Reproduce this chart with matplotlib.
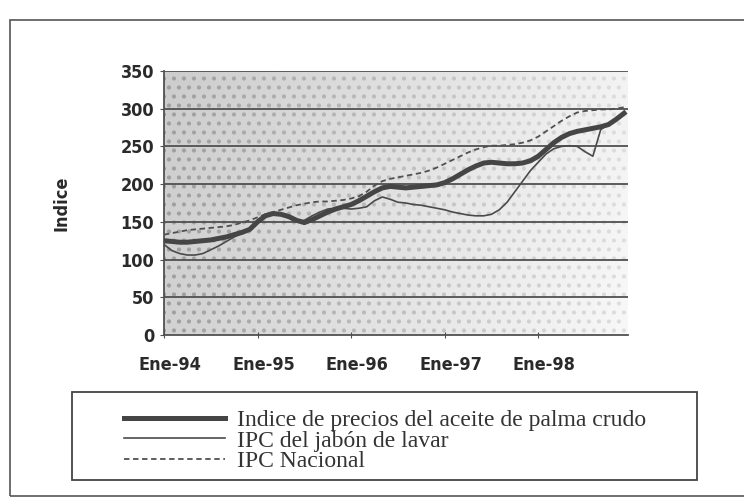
import numpy as np
import matplotlib.pyplot as plt
import matplotlib.transforms as mtransforms
from matplotlib.patches import Rectangle

# monthly data, Ene-94 .. Dic-98
meses = np.arange(60)
palma = [125, 124, 123, 123, 124, 125, 126, 128, 130, 133, 136, 140,
         150, 158, 161, 160, 157, 152, 149, 153, 158, 163, 167, 170,
         173, 178, 184, 190, 195, 197, 196, 195, 196, 197, 198, 199,
         202, 207, 213, 219, 224, 228, 229, 228, 227, 227, 228, 231,
         237, 246, 255, 262, 267, 270, 272, 274, 276, 279, 286, 294]
jabon = [120, 112, 108, 106, 106, 108, 113, 118, 124, 130, 135, 140,
         152, 158, 161, 160, 155, 150, 152, 158, 163, 167, 168, 168,
         167, 168, 170, 178, 183, 180, 176, 175, 173, 172, 170, 168,
         166, 163, 161, 159, 158, 158, 160, 166, 176, 190, 204, 218,
         229, 240, 247, 250, 251, 250, 243, 237, 272, 280, 285, 296]
ipc = [133, 135, 137, 139, 140, 141, 142, 143, 144, 146, 149, 152,
       156, 160, 163, 166, 169, 172, 174, 176, 177, 177, 178, 179,
       181, 184, 190, 198, 204, 207, 209, 211, 213, 215, 218, 222,
       227, 232, 237, 242, 246, 249, 251, 251, 252, 253, 255, 258,
       263, 270, 277, 284, 290, 295, 297, 298, 299, 299, 300, 302]
xticks = [0, 12, 24, 36, 48]
xlabels = ["Ene-94", "Ene-95", "Ene-96", "Ene-97", "Ene-98"]
labels = ["Indice de precios del aceite de palma crudo",
          "IPC del jabón de lavar",
          "IPC Nacional"]

cond = ["DejaVu Sans"]
serif = ["Liberation Serif", "DejaVu Serif"]

fig = plt.figure(figsize=(7.44, 4.99), dpi=100)
fig.patch.set_facecolor("white")
ax = fig.add_axes([0.2204, 0.3287, 0.6236, 0.529])

# shaded / dotted plot background (halftone look)
grad = np.linspace(0.80, 0.95, 200).reshape(1, -1)
grad = np.vstack([grad + 0.02 * i / 50 for i in range(50)])
ax.imshow(grad, cmap="gray", vmin=0, vmax=1, aspect="auto",
          extent=[0, 1, 0, 1], transform=ax.transAxes, zorder=0)
dx, dy = 10 / 464, 9 / 264
gx, gy = [], []
for r, yy in enumerate(np.arange(dy / 2, 1, dy)):
    for xx in np.arange((r % 2) * dx / 2, 1, dx):
        gx.append(xx)
        gy.append(yy)
gx = np.array(gx)
shade = plt.cm.gray(0.62 + 0.25 * gx)
ax.scatter(gx, gy, s=9, c=shade, lw=0, transform=ax.transAxes, zorder=0.5,
           clip_on=True)

for v in range(50, 351, 50):
    ax.axhline(v, color="#505050", lw=1.3, zorder=1)

ax.plot(meses, palma, color="#454545", lw=3.6, zorder=4, label=labels[0])
ax.plot(meses, jabon, color="#4a4a4a", lw=1.2, zorder=3, label=labels[1])
ax.plot(meses, ipc, color="#505050", lw=1.3, ls=(0, (3, 2)), zorder=3,
        label=labels[2])

ax.set_xlim(0, 59.5)
ax.set_ylim(0, 350)
ax.set_yticks(range(0, 351, 50))
ax.set_xticks(xticks)
ax.set_xticklabels(xlabels)
for s in ["top", "right"]:
    ax.spines[s].set_visible(False)
for s in ["left", "bottom"]:
    ax.spines[s].set_color("#505050")
    ax.spines[s].set_linewidth(1.3)
ax.tick_params(axis="y", length=3, color="#505050", pad=4)
ax.tick_params(axis="x", length=4, direction="inout", color="#505050", pad=13)
shift = mtransforms.ScaledTranslation(6 / 100, 0, fig.dpi_scale_trans)
for t in ax.get_xticklabels() + ax.get_yticklabels():
    t.set_family(cond)
    t.set_fontweight("bold")
    t.set_fontstretch("condensed")
    t.set_fontsize(13)
    t.set_color("#2a2a2a")
for t in ax.get_xticklabels():
    t.set_transform(t.get_transform() + shift)
ax.set_ylabel("Indice", family=cond, fontweight="bold", fontstretch="condensed",
              fontsize=13, color="#2a2a2a", labelpad=36)

# legend box
fig.patches.append(Rectangle((72 / 744, 1 - 480 / 499), 625 / 744, 88 / 499,
                             transform=fig.transFigure, fill=False,
                             edgecolor="#444444", lw=1.3))
fig.legend(loc="upper left", bbox_to_anchor=(112 / 744, 1 - 398 / 499),
           frameon=False, prop={"family": serif, "size": 17},
           handlelength=4.3, labelspacing=-0.05, handletextpad=0.5,
           borderpad=0, labelcolor="#333333")

# outer frame
fig.patches.append(Rectangle((10 / 744, 3 / 499), 1.0, 1 - 23 / 499,
                             transform=fig.transFigure, fill=False,
                             edgecolor="#555555", lw=1.2, clip_on=False))

fig.savefig("out.png", dpi=100)
